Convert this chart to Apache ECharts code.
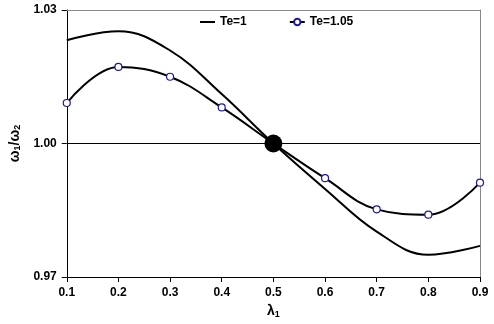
<!DOCTYPE html>
<html>
<head>
<meta charset="utf-8">
<script src="https://cdn.jsdelivr.net/npm/echarts@6/dist/echarts.min.js"></script>
<style>html,body{margin:0;padding:0;background:#fff}#c{width:494px;height:324px}</style>
</head>
<body>
<div id="c"></div>
<script>
const lambdaVals = [0.1, 0.2, 0.3, 0.4, 0.5, 0.6, 0.7, 0.8, 0.9];
const te1 = [1.0232, 1.0252, 1.0209, 1.0111, 1.0000, 0.9898, 0.9802, 0.9750, 0.9770];
const te105 = [1.0091, 1.0172, 1.0150, 1.0081, 1.0000, 0.9922, 0.9852, 0.9840, 0.9912];
const crossPoint = [0.5, 1.0];
const yTicks = [0.97, 1.00, 1.03];
const seriesNames = ['Te=1', 'Te=1.05'];

const font = 'Arial, "Liberation Sans", sans-serif';
const chart = echarts.init(document.getElementById('c'), null, {renderer: 'canvas'});
chart.setOption({
  animation: false,
  backgroundColor: '#fff',
  grid: {left: 63, right: 14, top: 10, bottom: 44},
  legend: {
    left: 195, top: 11,
    itemWidth: 15, itemHeight: 8, itemGap: 42,
    textStyle: {fontFamily: font, fontSize: 12, fontWeight: 'bold', color: '#000'},
    data: [
      {name: seriesNames[0], icon: 'path://M0,0L15,0L15,2L0,2Z'},
      {name: seriesNames[1]}
    ]
  },
  xAxis: [{
    type: 'value', min: 0.1, max: 0.9, interval: 0.1,
    name: '{l|λ}{s|1}', nameLocation: 'middle', nameGap: 27,
    nameTextStyle: {rich: {
      l: {fontFamily: font, fontSize: 14, fontWeight: 'bold', color: '#000'},
      s: {fontFamily: font, fontSize: 9, fontWeight: 'bold', color: '#000', verticalAlign: 'bottom', padding: [6,0,0,0]}
    }},
    axisLine: {onZero: false, lineStyle: {color: '#000', width: 1}},
    axisTick: {inside: false, length: 5, lineStyle: {color: '#000'}},
    axisLabel: {margin: 10, fontFamily: font, fontSize: 12, fontWeight: 'bold', color: '#000',
      formatter: v => v.toFixed(1)},
    splitLine: {show: false}
  }, {
    type: 'value', min: 0.1, max: 0.9, position: 'top',
    axisLine: {show: true, lineStyle: {color: '#888', width: 1}},
    axisTick: {show: false}, axisLabel: {show: false}, splitLine: {show: false}
  }],
  yAxis: [{
    type: 'value', min: yTicks[0], max: yTicks[2], interval: 0.03,
    name: '{w|ω}{s|1}{w|/ω}{s|2}', nameLocation: 'middle', nameGap: 33, nameRotate: 90,
    nameTextStyle: {rich: {
      w: {fontFamily: font, fontSize: 14, fontWeight: 'bold', color: '#000'},
      s: {fontFamily: font, fontSize: 9, fontWeight: 'bold', color: '#000', verticalAlign: 'bottom', padding: [6,0,0,0]}
    }},
    axisLine: {show: true, onZero: false, lineStyle: {color: '#000', width: 1}},
    axisTick: {show: true, length: 5, lineStyle: {color: '#000'}},
    axisLabel: {margin: 10, fontFamily: font, fontSize: 12, fontWeight: 'bold', color: '#000',
      formatter: v => v.toFixed(2)},
    splitLine: {show: false}
  }, {
    type: 'value', min: yTicks[0], max: yTicks[2], position: 'right',
    axisLine: {show: true, lineStyle: {color: '#888', width: 1}},
    axisTick: {show: false}, axisLabel: {show: false}, splitLine: {show: false}
  }],
  series: [{
    name: seriesNames[0], type: 'line', smooth: 0.4,
    data: lambdaVals.map((x, i) => [x, te1[i]]),
    showSymbol: false, symbol: 'none',
    lineStyle: {color: '#000', width: 2}, itemStyle: {color: '#000'},
    markLine: {silent: true, symbol: 'none', label: {show: false},
      lineStyle: {color: '#000', width: 1, type: 'solid'},
      data: [{yAxis: crossPoint[1]}]}
  }, {
    name: seriesNames[1], type: 'line', smooth: 0.4,
    data: lambdaVals.map((x, i) => [x, te105[i]]),
    symbol: 'circle', symbolSize: 7, showSymbol: true,
    lineStyle: {color: '#000', width: 2},
    itemStyle: {color: '#fff', borderColor: '#1a1aa0', borderWidth: 1.2}
  }, {
    name: 'cross', type: 'scatter', data: [crossPoint], symbolSize: 18,
    itemStyle: {color: '#000', opacity: 1}, z: 5
  }]
});
</script>
</body>
</html>
